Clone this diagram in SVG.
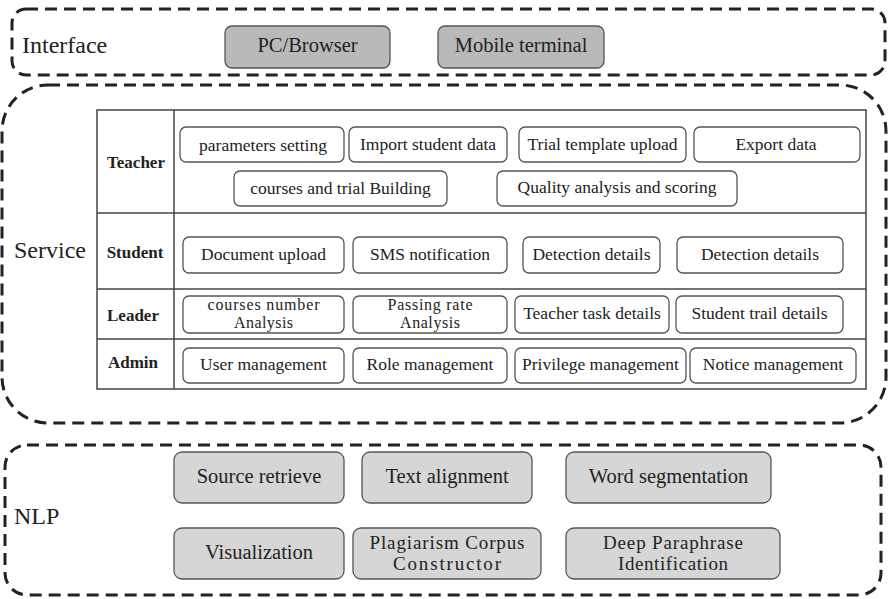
<svg xmlns="http://www.w3.org/2000/svg" width="888" height="599" viewBox="0 0 888 599" font-family="'Liberation Serif', 'DejaVu Serif', serif">
  <style>
    .layer { fill: none; stroke: #222; stroke-width: 3; stroke-dasharray: 12 7; }
    .grid { fill: #fff; stroke: #444; stroke-width: 1.5; }
    .rule { stroke: #444; stroke-width: 1.5; }
    .svc rect { fill: #fff; stroke: #555; stroke-width: 1.3; }
    .dark rect { fill: #b9b9b9; stroke: #555; stroke-width: 1.3; }
    .nlp rect { fill: #d6d6d6; stroke: #555; stroke-width: 1.3; }
    text { font-family: 'Liberation Serif', 'DejaVu Serif', serif; fill: #222; }
    .lbl { font-size: 24px; }
    .role { font-size: 17px; font-weight: bold; text-anchor: middle; }
    .svc text { font-size: 17.5px; text-anchor: middle; }
    .svc text.two { font-size: 16px; }
    .dark text { font-size: 20.5px; text-anchor: middle; }
    .nlp text { font-size: 20.5px; text-anchor: middle; }
    .nlp text.two { font-size: 19px; }
  </style>

  <!-- layer outlines -->
  <g id="layers">
    <rect class="layer" x="12" y="9" width="873" height="66" rx="14"/>
    <rect class="layer" x="2" y="85" width="884" height="338" rx="46"/>
    <rect class="layer" x="5" y="445" width="876" height="150" rx="22"/>
  </g>

  <text class="lbl" x="22" y="53">Interface</text>
  <text class="lbl" x="14" y="258">Service</text>
  <text class="lbl" x="14" y="524">NLP</text>

  <!-- interface nodes -->
  <g id="pc-browser" class="dark"><rect x="225" y="26" width="165" height="42" rx="7"/><text x="307.5" y="52">PC/Browser</text></g>
  <g id="mobile-terminal" class="dark"><rect x="438" y="26" width="166" height="42" rx="7"/><text x="521" y="52">Mobile terminal</text></g>

  <!-- service table -->
  <g id="role-table">
    <rect class="grid" x="97" y="110" width="769" height="279"/>
    <line class="rule" x1="174" y1="110" x2="174" y2="389"/>
    <line class="rule" x1="97" y1="213" x2="866" y2="213"/>
    <line class="rule" x1="97" y1="289" x2="866" y2="289"/>
    <line class="rule" x1="97" y1="339" x2="866" y2="339"/>
    <text class="role" x="136" y="168">Teacher</text>
    <text class="role" x="135" y="258">Student</text>
    <text class="role" x="133" y="321">Leader</text>
    <text class="role" x="133" y="368">Admin</text>
  </g>

  <!-- teacher -->
  <g id="parameters-setting" class="svc"><rect x="180" y="127" width="164" height="35" rx="6"/><text x="263" y="151">parameters  setting</text></g>
  <g id="import-student-data" class="svc"><rect x="349" y="127" width="158" height="35" rx="6"/><text x="428" y="150">Import student data</text></g>
  <g id="trial-template-upload" class="svc"><rect x="519" y="127" width="167" height="35" rx="6"/><text x="602.5" y="150">Trial template upload</text></g>
  <g id="export-data" class="svc"><rect x="694" y="127" width="166" height="35" rx="6"/><text x="776" y="150">Export data</text></g>
  <g id="courses-trial-building" class="svc"><rect x="234" y="171" width="213" height="35" rx="6"/><text x="340.5" y="194">courses and trial Building</text></g>
  <g id="quality-analysis" class="svc"><rect x="497" y="171" width="240" height="35" rx="6"/><text x="617" y="193">Quality analysis  and scoring</text></g>

  <!-- student -->
  <g id="document-upload" class="svc"><rect x="183" y="237" width="161" height="36" rx="6"/><text x="263.5" y="260">Document upload</text></g>
  <g id="sms-notification" class="svc"><rect x="353" y="237" width="154" height="36" rx="6"/><text x="430" y="260">SMS notification</text></g>
  <g id="detection-details-1" class="svc"><rect x="523" y="237" width="137" height="36" rx="6"/><text x="591.5" y="260">Detection details</text></g>
  <g id="detection-details-2" class="svc"><rect x="677" y="237" width="166" height="36" rx="6"/><text x="760" y="260">Detection details</text></g>

  <!-- leader -->
  <g id="courses-number-analysis" class="svc"><rect x="183" y="296" width="161" height="37" rx="6"/><text class="two" x="263.5" y="310" textLength="112">courses  number</text><text class="two" x="263.5" y="328" textLength="59">Analysis</text></g>
  <g id="passing-rate-analysis" class="svc"><rect x="353" y="296" width="154" height="37" rx="6"/><text class="two" x="430" y="310" textLength="85">Passing rate</text><text class="two" x="430" y="328" textLength="60">Analysis</text></g>
  <g id="teacher-task-details" class="svc"><rect x="515" y="296" width="154" height="37" rx="6"/><text x="592" y="319">Teacher task details</text></g>
  <g id="student-trail-details" class="svc"><rect x="676" y="296" width="167" height="37" rx="6"/><text x="759.5" y="319">Student trail details</text></g>

  <!-- admin -->
  <g id="user-management" class="svc"><rect x="183" y="348" width="161" height="35" rx="6"/><text x="263.5" y="370">User management</text></g>
  <g id="role-management" class="svc"><rect x="353" y="348" width="154" height="35" rx="6"/><text x="430" y="370">Role management</text></g>
  <g id="privilege-management" class="svc"><rect x="515" y="348" width="171" height="35" rx="6"/><text x="600.5" y="370">Privilege management</text></g>
  <g id="notice-management" class="svc"><rect x="690" y="348" width="166" height="35" rx="6"/><text x="773" y="370">Notice management</text></g>

  <!-- nlp nodes -->
  <g id="source-retrieve" class="nlp"><rect x="174" y="452" width="170" height="51" rx="8"/><text x="259" y="483">Source retrieve</text></g>
  <g id="text-alignment" class="nlp"><rect x="362" y="452" width="170" height="51" rx="8"/><text x="447" y="483">Text alignment</text></g>
  <g id="word-segmentation" class="nlp"><rect x="566" y="452" width="205" height="51" rx="8"/><text x="668.5" y="483">Word segmentation</text></g>
  <g id="visualization" class="nlp"><rect x="174" y="528" width="170" height="51" rx="8"/><text x="259" y="559">Visualization</text></g>
  <g id="plagiarism-corpus" class="nlp"><rect x="353" y="528" width="188" height="51" rx="8"/><text class="two" x="447" y="549" textLength="155">Plagiarism Corpus</text><text class="two" x="447" y="570" textLength="108">Constructor</text></g>
  <g id="deep-paraphrase" class="nlp"><rect x="566" y="528" width="214" height="51" rx="8"/><text class="two" x="673" y="549" textLength="140">Deep Paraphrase</text><text class="two" x="673" y="570" textLength="110">Identification</text></g>
</svg>
